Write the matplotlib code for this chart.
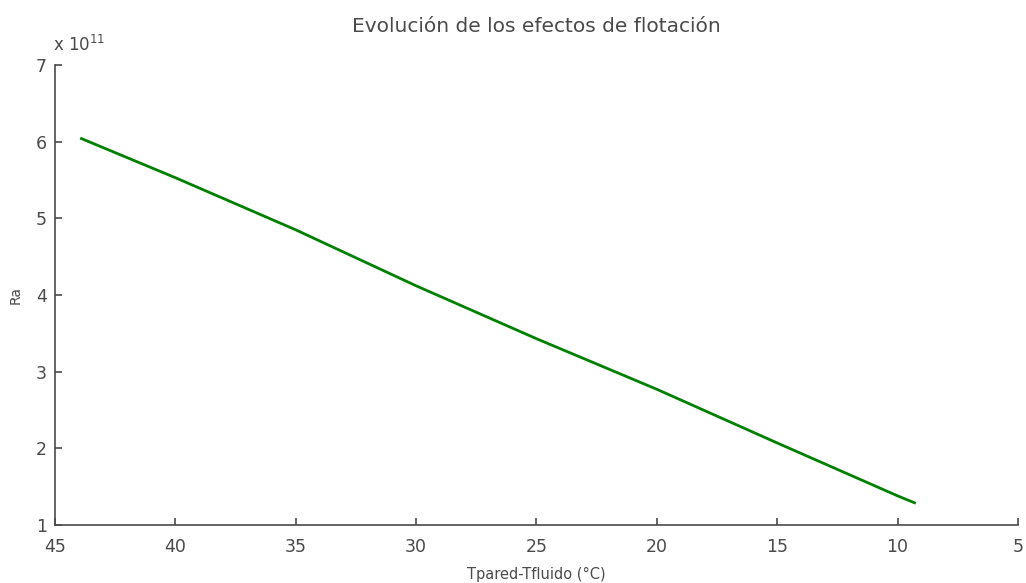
import matplotlib
matplotlib.use("Agg")
import matplotlib.pyplot as plt

# Data (Ra in units of 1e11)
dT = [43.9, 40.0, 35.0, 30.0, 25.0, 20.0, 15.0, 10.0, 9.3]
ra = [6.04, 5.53, 4.85, 4.12, 3.43, 2.77, 2.07, 1.38, 1.29]
xticks = [45, 40, 35, 30, 25, 20, 15, 10, 5]
yticks = [1, 2, 3, 4, 5, 6, 7]

title = "Evolución de los efectos de flotación"
xlabel = "Tpared-Tfluido (°C)"
ylabel = "Ra"

gray = "#4a4a4a"
fig = plt.figure(figsize=(10.26, 5.83), dpi=100)
ax = fig.add_axes([55/1026, 58/583, (1018-55)/1026, (525-65)/583])
ax.plot(dT, ra, color="#008000", lw=2)
ax.set_xlim(45, 5)
ax.set_ylim(1, 7)
ax.set_xticks(xticks)
ax.set_yticks(yticks)
for s in ["top", "right"]:
    ax.spines[s].set_visible(False)
for s in ["left", "bottom"]:
    ax.spines[s].set_color(gray)
    ax.spines[s].set_linewidth(1.2)
ax.tick_params(direction="in", length=5, width=1.2, color=gray, labelcolor=gray,
               labelsize=12.5)
ax.tick_params(axis="x", pad=9)
ax.tick_params(axis="y", pad=6)
ax.set_title(title, fontsize=14.5, color=gray, pad=24)
ax.set_xlabel(xlabel, fontsize=10.5, color=gray, labelpad=8)
ax.set_ylabel(ylabel, fontsize=10, color=gray, labelpad=9)
fig.text(53/1026, (583-45)/583, "x 10$^{11}$", fontsize=12, color=gray,
         ha="left", va="center")
fig.savefig("out.png", dpi=100)
